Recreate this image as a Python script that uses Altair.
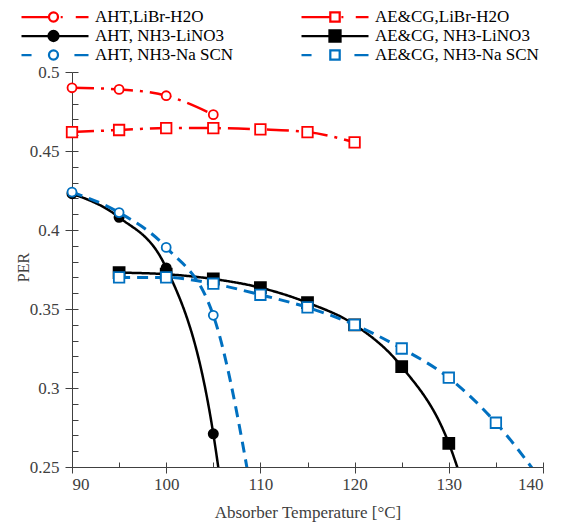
import altair as alt
import pandas as pd

# ---------------- data ----------------
series_names = [
    "AHT,LiBr-H2O",
    "AE&CG,LiBr-H2O",
    "AHT, NH3-LiNO3",
    "AE&CG, NH3-LiNO3",
    "AHT, NH3-Na SCN",
    "AE&CG, NH3-Na SCN",
]

t_aht_libr = [90, 95, 100, 105]
per_aht_libr = [0.490, 0.489, 0.485, 0.473]

t_ae_libr = [90, 95, 100, 105, 110, 115, 120]
per_ae_libr = [0.462, 0.4633, 0.4645, 0.4645, 0.4637, 0.462, 0.4555]

# last value lies below the axis range (line leaves the plot there)
t_aht_lino3 = [90, 95, 100, 105, 110]
per_aht_lino3 = [0.423, 0.408, 0.376, 0.271, 0.0]

t_ae_lino3 = [95, 100, 105, 110, 115, 120, 125, 130, 135]
per_ae_lino3 = [0.373, 0.372, 0.369, 0.3635, 0.354, 0.340, 0.3135, 0.265, 0.16]

t_aht_nascn = [90, 95, 100, 105, 110]
per_aht_nascn = [0.424, 0.411, 0.389, 0.346, 0.20]

t_ae_nascn = [95, 100, 105, 110, 115, 120, 125, 130, 135, 140]
per_ae_nascn = [0.370, 0.370, 0.366, 0.359, 0.351, 0.340, 0.325, 0.3065, 0.278, 0.24]

x_ticks = [90, 100, 110, 120, 130, 140]
x_minor = [90, 95, 100, 105, 110, 115, 120, 125, 130, 135, 140]
y_ticks = [0.25, 0.30, 0.35, 0.40, 0.45, 0.50]
y_minor = [round(0.25 + 0.01 * i, 2) for i in range(26)]

all_t = [t_aht_libr, t_ae_libr, t_aht_lino3, t_ae_lino3, t_aht_nascn, t_ae_nascn]
all_per = [per_aht_libr, per_ae_libr, per_aht_lino3, per_ae_lino3, per_aht_nascn, per_ae_nascn]

# ---------------- styles ----------------
RED, BLACK, BLUE = "#ff0000", "#000000", "#0070c0"
FONT = "Liberation Serif"
AX = "#404040"
LAB = "#404040"

styles = [
    dict(color=RED, dash=[22, 7, 3, 7], width=2.5, shape="circle", fill="white", size=80),
    dict(color=RED, dash=[22, 7, 3, 7], width=2.5, shape="square", fill="white", size=110),
    dict(color=BLACK, dash=[1, 0], width=2.5, shape="circle", fill=BLACK, size=85),
    dict(color=BLACK, dash=[1, 0], width=2.5, shape="square", fill=BLACK, size=120),
    dict(color=BLUE, dash=[11, 7], width=3, shape="circle", fill="white", size=80),
    dict(color=BLUE, dash=[11, 7], width=3, shape="square", fill="white", size=110),
]

# legend symbols: line sample + marker, as custom paths (unit = half symbol width)
def circ(cx, r):
    return (f"M{cx + r:.3f},0 A{r},{r} 0 1,1 {cx - r:.3f},0 "
            f"A{r},{r} 0 1,1 {cx + r:.3f},0 Z")

def sq(h):
    return f"M{-h},{-h} L{h},{-h} L{h},{h} L{-h},{h} Z"

legend_paths = [
    "M-1,0 L-0.19,0 " + circ(-0.045, 0.135) + " M0.17,0 L0.23,0 M0.62,0 L1,0",
    "M-1,0 L-0.14,0 " + sq(0.14) + " M0.19,0 L0.25,0 M0.62,0 L1,0",
    "M-1,0 L1,0 " + circ(-0.045, 0.15),
    "M-1,0 L1,0 " + sq(0.165),
    "M-1,0 L-0.7,0 " + circ(-0.045, 0.135) + " M0.58,0 L1,0",
    "M-1,0 L-0.7,0 " + sq(0.14) + " M0.58,0 L1,0",
]
# legend is laid out column by column: AHT series in column 1, AE&CG in column 2
legend_order = [0, 2, 4, 1, 3, 5]
leg_names = [series_names[i] for i in legend_order]
leg_paths = [legend_paths[i] for i in legend_order]
leg_stroke = [styles[i]["color"] for i in legend_order]
leg_fill = [styles[i]["fill"] for i in legend_order]

# ---------------- scales / axes ----------------
xs = alt.Scale(domain=[90, 140], nice=False, zero=False)
ys = alt.Scale(domain=[0.25, 0.5], nice=False, zero=False)

x_main = alt.Axis(values=x_ticks, tickSize=6, tickColor=AX, tickWidth=1,
                  domainColor=AX, domainWidth=1, grid=False,
                  labelFont=FONT, labelFontSize=17, labelColor=LAB, labelPadding=3,
                  title="Absorber Temperature [°C]", titleFont=FONT, titleFontSize=17,
                  titleFontWeight="normal", titleColor=LAB,
                  titleBaseline="alphabetic", titleY=50)
y_main = alt.Axis(values=y_ticks, format=".2~f", tickSize=7, tickColor=AX, tickWidth=1,
                  domainColor=AX, domainWidth=1, grid=False,
                  labelFont=FONT, labelFontSize=17, labelColor=LAB, labelPadding=6,
                  title="PER", titleFont=FONT, titleFontSize=16, titleFontWeight="normal",
                  titleColor=LAB, titleAngle=270, titleBaseline="middle",
                  titleX=-49, titleY=195)
x_in = alt.Axis(orient="top", offset=-395, values=x_minor, tickSize=5, tickColor=AX,
                tickWidth=1, domain=False, labels=False, title=None, grid=False)
y_in = alt.Axis(orient="right", offset=-471, values=y_minor, tickSize=6, tickColor=AX,
                tickWidth=1, domain=False, labels=False, title=None, grid=False)

layers = []
for i, (name, ts, ps, st) in enumerate(zip(series_names, all_t, all_per, styles)):
    df = pd.DataFrame({"T": ts, "PER": ps, "series": name})
    if i == 0:
        xa, ya = x_main, y_main
    elif i == 1:
        xa, ya = x_in, y_in
    else:
        xa, ya = None, None
    line = alt.Chart(df).mark_line(
        interpolate="monotone", clip=True, color=st["color"],
        strokeWidth=st["width"], strokeDash=st["dash"]
    ).encode(
        x=alt.X("T:Q", scale=xs, axis=xa),
        y=alt.Y("PER:Q", scale=ys, axis=ya),
    )
    pts = alt.Chart(df).transform_filter(alt.datum.PER >= 0.25).mark_point(
        shape=st["shape"], filled=True, fill=st["fill"], stroke=st["color"],
        strokeWidth=1.8, size=st["size"], opacity=1
    ).encode(
        x=alt.X("T:Q", scale=xs, axis=None),
        y=alt.Y("PER:Q", scale=ys, axis=None),
    )
    layers += [line, pts]

# legend-only layer (no drawn data)
leg_df = pd.DataFrame({"series": leg_names, "T": [100] * 6, "PER": [0.3] * 6})
leg_layer = alt.Chart(leg_df).transform_filter("false").mark_point(
    size=4489, opacity=1, strokeWidth=2.25
).encode(
    x=alt.X("T:Q", scale=xs, axis=None),
    y=alt.Y("PER:Q", scale=ys, axis=None),
    shape=alt.Shape("series:N", scale=alt.Scale(domain=leg_names, range=leg_paths),
                    legend=alt.Legend(title=None)),
    stroke=alt.Stroke("series:N", scale=alt.Scale(domain=leg_names, range=leg_stroke),
                      legend=alt.Legend(title=None)),
    fill=alt.Fill("series:N", scale=alt.Scale(domain=leg_names, range=leg_fill),
                  legend=alt.Legend(title=None)),
)
layers.append(leg_layer)

chart = alt.layer(*layers).resolve_axis(
    x="independent", y="independent"
).properties(
    width=471, height=395,
    autosize=alt.AutoSizeParams(type="none"),
    padding={"left": 72, "top": 72, "right": 27, "bottom": 58},
).configure(font=FONT).configure_view(stroke=None).configure_legend(
    orient="none", legendX=-52, legendY=-64.5, columns=2, columnPadding=66,
    rowPadding=0, clipHeight=19, symbolSize=4489, symbolStrokeWidth=2.25,
    symbolOffset=0, labelOffset=5, labelFont=FONT, labelFontSize=17,
    labelColor="#000000", labelLimit=0, padding=0, titlePadding=0,
)

chart.save("out.html", embed_options={"renderer": "svg", "actions": False})
